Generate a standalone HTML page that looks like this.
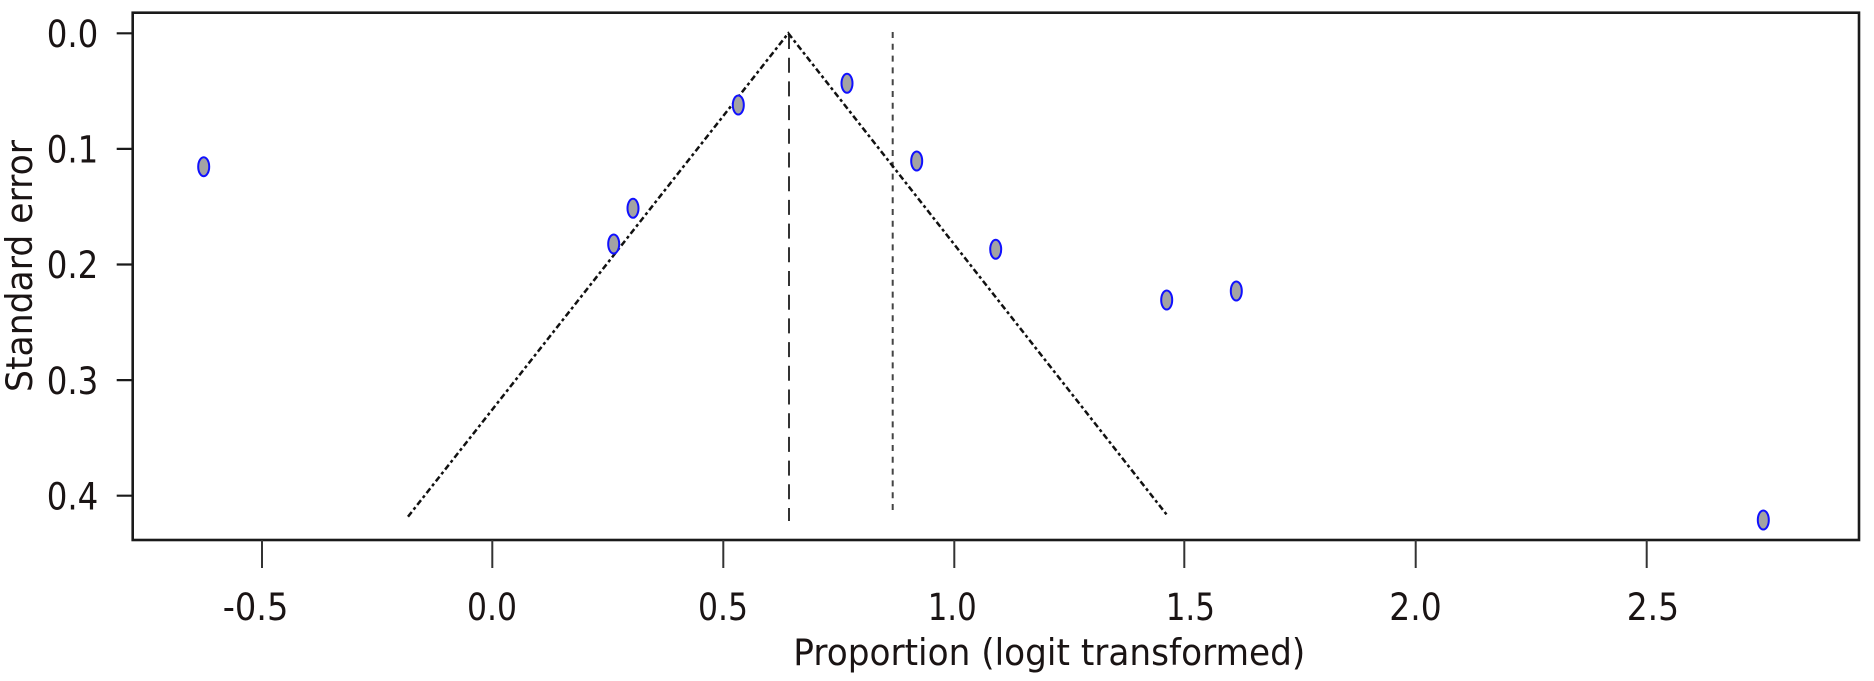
<!DOCTYPE html>
<html><head><meta charset="utf-8"><style>
html,body{margin:0;padding:0;background:#fff;}
svg{display:block;}
text{font-family:"DejaVu Sans","Liberation Sans",sans-serif;fill:#1a1414;}
</style></head><body>
<svg width="1874" height="681" viewBox="0 0 1874 681" xmlns="http://www.w3.org/2000/svg">
<rect x="0" y="0" width="1874" height="681" fill="#fff"/>
<!-- plot frame -->
<rect x="132.7" y="12.7" width="1726.3" height="527.3" fill="none" stroke="#1a1a1a" stroke-width="2.6"/>
<!-- y ticks -->
<g stroke="#1a1a1a" stroke-width="2.2">
<line x1="116.7" y1="33.3" x2="132.7" y2="33.3"/>
<line x1="116.7" y1="148.9" x2="132.7" y2="148.9"/>
<line x1="116.7" y1="264.5" x2="132.7" y2="264.5"/>
<line x1="116.7" y1="380.1" x2="132.7" y2="380.1"/>
<line x1="116.7" y1="495.7" x2="132.7" y2="495.7"/>
</g>
<g font-size="37">
<text x="46.7" y="47" textLength="51.6" lengthAdjust="spacingAndGlyphs">0.0</text>
<text x="46.7" y="162.6" textLength="51.6" lengthAdjust="spacingAndGlyphs">0.1</text>
<text x="46.7" y="278.2" textLength="51.6" lengthAdjust="spacingAndGlyphs">0.2</text>
<text x="46.7" y="393.8" textLength="51.6" lengthAdjust="spacingAndGlyphs">0.3</text>
<text x="46.7" y="509.4" textLength="51.6" lengthAdjust="spacingAndGlyphs">0.4</text>
</g>
<!-- x ticks -->
<g stroke="#333" stroke-width="2">
<line x1="262" y1="540" x2="262" y2="568"/>
<line x1="492.3" y1="540" x2="492.3" y2="568"/>
<line x1="723.3" y1="540" x2="723.3" y2="568"/>
<line x1="954.3" y1="540" x2="954.3" y2="568"/>
<line x1="1184.3" y1="540" x2="1184.3" y2="568"/>
<line x1="1415.7" y1="540" x2="1415.7" y2="568"/>
<line x1="1646.7" y1="540" x2="1646.7" y2="568"/>
</g>
<g font-size="37">
<text x="222.7" y="620" textLength="65.7" lengthAdjust="spacingAndGlyphs">-0.5</text>
<text x="467" y="620" textLength="50" lengthAdjust="spacingAndGlyphs">0.0</text>
<text x="698" y="620" textLength="50" lengthAdjust="spacingAndGlyphs">0.5</text>
<text x="927.7" y="620" textLength="49" lengthAdjust="spacingAndGlyphs">1.0</text>
<text x="1165.7" y="620" textLength="49.3" lengthAdjust="spacingAndGlyphs">1.5</text>
<text x="1389.3" y="620" textLength="52.4" lengthAdjust="spacingAndGlyphs">2.0</text>
<text x="1626.7" y="620" textLength="52.3" lengthAdjust="spacingAndGlyphs">2.5</text>
</g>
<text x="793.3" y="665" font-size="36.5" textLength="512" lengthAdjust="spacingAndGlyphs">Proportion (logit transformed)</text>
<text transform="translate(32,392) rotate(-90)" font-size="36.5" textLength="252" lengthAdjust="spacingAndGlyphs">Standard error</text>
<!-- vertical reference lines -->
<line x1="789" y1="34" x2="789" y2="521" stroke="#333" stroke-width="2" stroke-dasharray="15,8.7"/>
<line x1="892.7" y1="32" x2="892.7" y2="512" stroke="#444" stroke-width="2" stroke-dasharray="6,5.8"/>
<!-- funnel -->
<polyline points="408,516.7 788.3,33.3 1168.3,516.7" fill="none" stroke="#111" stroke-width="2.5" stroke-dasharray="6,3,3,3"/>
<!-- points -->
<g fill="#a3a3a3" stroke="#1010ff" stroke-width="2">
<ellipse cx="203.7" cy="166.7" rx="5.5" ry="9.5"/>
<ellipse cx="738.3" cy="105" rx="5.5" ry="9.5"/>
<ellipse cx="847" cy="83.3" rx="5.5" ry="9.5"/>
<ellipse cx="916.7" cy="161" rx="5.5" ry="9.5"/>
<ellipse cx="633" cy="208.3" rx="5.5" ry="9.5"/>
<ellipse cx="613.7" cy="244" rx="5.5" ry="9.5"/>
<ellipse cx="995.7" cy="249.3" rx="5.5" ry="9.5"/>
<ellipse cx="1166.7" cy="300" rx="5.5" ry="9.5"/>
<ellipse cx="1236.3" cy="291" rx="5.5" ry="9.5"/>
<ellipse cx="1763.3" cy="520" rx="5.5" ry="9.5"/>
</g>
</svg>
</body></html>
